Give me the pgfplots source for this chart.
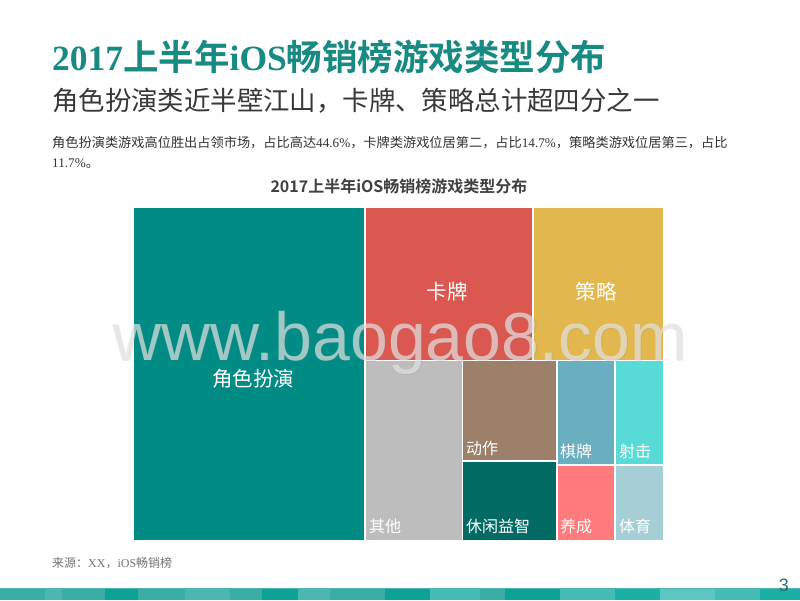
\documentclass[border=0pt]{standalone}
\usepackage{pgfplots}
\pgfplotsset{compat=1.18}
\usepackage{fontspec}
\setmainfont{Noto Sans CJK SC}
\newfontfamily\cjkb{Noto Sans CJK SC Bold}
\newfontfamily\tnr{Liberation Serif}
\newfontfamily\lsans{Liberation Sans}
\definecolor{titleteal}{HTML}{178A82}
\definecolor{cA}{HTML}{008B84}
\definecolor{cB}{HTML}{DB5851}
\definecolor{cC}{HTML}{E2B84E}
\definecolor{cD}{HTML}{BDBDBD}
\definecolor{cE}{HTML}{9C806A}
\definecolor{cF}{HTML}{006A63}
\definecolor{cG}{HTML}{6AAFBF}
\definecolor{cH}{HTML}{58DAD6}
\definecolor{cI}{HTML}{FF7B7D}
\definecolor{cJ}{HTML}{A6CED6}
\definecolor{wm}{HTML}{E6E6E6}
\definecolor{pg}{HTML}{2F6F70}
\definecolor{s1}{HTML}{3AADA5}
\definecolor{s2}{HTML}{4CB7B0}
\definecolor{s3}{HTML}{0EA195}
\definecolor{s4}{HTML}{1BB0A5}
\definecolor{s5}{HTML}{45BDB5}
\definecolor{s6}{HTML}{5CC7C0}
\begin{document}
\begin{tikzpicture}
\begin{axis}[width=800pt,height=600pt,scale only axis,xmin=0,xmax=800,ymin=0,ymax=600,
  y dir=reverse,hide axis,clip=false]
\fill[white] (axis cs:0,0) rectangle (axis cs:800,600);
% treemap rectangles
\addplot[fill=cA,draw=white,line width=1.5pt] coordinates {(133,207) (365,207) (365,541) (133,541) (133,207)};
\addplot[fill=cB,draw=white,line width=1.5pt] coordinates {(365,207) (533,207) (533,360.5) (365,360.5) (365,207)};
\addplot[fill=cC,draw=white,line width=1.5pt] coordinates {(533,207) (664,207) (664,360.5) (533,360.5) (533,207)};
\addplot[fill=cD,draw=white,line width=1.5pt] coordinates {(365,360.5) (462.7,360.5) (462.7,541) (365,541) (365,360.5)};
\addplot[fill=cE,draw=white,line width=1.5pt] coordinates {(462.7,360.5) (557,360.5) (557,461) (462.7,461) (462.7,360.5)};
\addplot[fill=cF,draw=white,line width=1.5pt] coordinates {(462.7,461) (557,461) (557,541) (462.7,541) (462.7,461)};
\addplot[fill=cG,draw=white,line width=1.5pt] coordinates {(557,360.5) (615,360.5) (615,465) (557,465) (557,360.5)};
\addplot[fill=cH,draw=white,line width=1.5pt] coordinates {(615,360.5) (664,360.5) (664,465) (615,465) (615,360.5)};
\addplot[fill=cI,draw=white,line width=1.5pt] coordinates {(557,465) (615,465) (615,541) (557,541) (557,465)};
\addplot[fill=cJ,draw=white,line width=1.5pt] coordinates {(615,465) (664,465) (664,541) (615,541) (615,465)};
% labels
\node[white,inner sep=0pt,font=\fontsize{20.5}{24}\selectfont] at (axis cs:253,379) {角色扮演};
\node[white,inner sep=0pt,font=\fontsize{20.5}{24}\selectfont] at (axis cs:447,292) {卡牌};
\node[white,inner sep=0pt,font=\fontsize{20.5}{24}\selectfont] at (axis cs:596,292) {策略};
\node[white,anchor=west,inner sep=0pt,font=\fontsize{16}{18}\selectfont] at (axis cs:369,526) {其他};
\node[white,anchor=west,inner sep=0pt,font=\fontsize{16}{18}\selectfont] at (axis cs:466,448) {动作};
\node[white,anchor=west,inner sep=0pt,font=\fontsize{16}{18}\selectfont] at (axis cs:466,526) {休闲益智};
\node[white,anchor=west,inner sep=0pt,font=\fontsize{16}{18}\selectfont] at (axis cs:560,451) {棋牌};
\node[white,anchor=west,inner sep=0pt,font=\fontsize{16}{18}\selectfont] at (axis cs:619,451) {射击};
\node[white,anchor=west,inner sep=0pt,font=\fontsize{16}{18}\selectfont] at (axis cs:560,526) {养成};
\node[white,anchor=west,inner sep=0pt,font=\fontsize{16}{18}\selectfont] at (axis cs:619,526) {体育};
% watermark
\node[anchor=base west,inner sep=0pt,text=gray,opacity=0.15,font=\lsans\fontsize{68}{70}\selectfont] at (axis cs:113.5,361.5) {www.baogao8.com};
\node[anchor=base west,inner sep=0pt,text=wm,opacity=0.68,font=\lsans\fontsize{68}{70}\selectfont] at (axis cs:112,360) {www.baogao8.com};
% chart title
\node[anchor=base,inner sep=0pt,text=black!75,font=\cjkb\fontsize{16}{18}\selectfont] at (axis cs:399,192) {2017上半年iOS畅销榜游戏类型分布};
% headings
\node[anchor=base west,inner sep=0pt,text=titleteal,font=\cjkb\fontsize{35.5}{40}\selectfont] at (axis cs:52,70) {{\tnr\bfseries 2017}上半年{\tnr\bfseries iOS}畅销榜游戏类型分布};
\node[anchor=base west,inner sep=0pt,text=black!78,font=\fontsize{26.4}{30}\selectfont] at (axis cs:52,110) {角色扮演类近半壁江山，卡牌、策略总计超四分之一};
\node[anchor=base west,inner sep=0pt,text=black!80,font=\fontsize{13.2}{16}\selectfont] at (axis cs:52,147) {角色扮演类游戏高位胜出占领市场，占比高达{\tnr 44.6\%}，卡牌类游戏位居第二，占比{\tnr 14.7\%}，策略类游戏位居第三，占比};
\node[anchor=base west,inner sep=0pt,text=black!80,font=\fontsize{13.2}{16}\selectfont] at (axis cs:52,167) {{\tnr 11.7\%}。};
\node[anchor=base west,inner sep=0pt,text=black!55,font=\fontsize{12}{14}\selectfont] at (axis cs:52,567) {来源：{\tnr XX}，{\tnr iOS}畅销榜};
% bottom stripe
\fill[s2] (axis cs:0,588) rectangle (axis cs:800,600);
\fill[s1] (axis cs:0,589) rectangle (axis cs:45,600);
\fill[s2] (axis cs:45,589) rectangle (axis cs:62,600);
\fill[s1] (axis cs:62,589) rectangle (axis cs:105,600);
\fill[s3] (axis cs:105,589) rectangle (axis cs:138,600);
\fill[s1] (axis cs:138,589) rectangle (axis cs:185,600);
\fill[s2] (axis cs:185,589) rectangle (axis cs:230,600);
\fill[s1] (axis cs:230,589) rectangle (axis cs:262,600);
\fill[s3] (axis cs:262,589) rectangle (axis cs:298,600);
\fill[s2] (axis cs:298,589) rectangle (axis cs:330,600);
\fill[s1] (axis cs:330,589) rectangle (axis cs:385,600);
\fill[s3] (axis cs:385,589) rectangle (axis cs:430,600);
\fill[s5] (axis cs:430,589) rectangle (axis cs:480,600);
\fill[s1] (axis cs:480,589) rectangle (axis cs:505,600);
\fill[s3] (axis cs:505,589) rectangle (axis cs:560,600);
\fill[s5] (axis cs:560,589) rectangle (axis cs:615,600);
\fill[s4] (axis cs:615,589) rectangle (axis cs:660,600);
\fill[s6] (axis cs:660,589) rectangle (axis cs:715,600);
\fill[s5] (axis cs:715,589) rectangle (axis cs:760,600);
\fill[s4] (axis cs:760,589) rectangle (axis cs:800,600);
\node[anchor=base east,inner sep=0pt,text=pg,font=\lsans\fontsize{18}{20}\selectfont] at (axis cs:789,591) {3};
\end{axis}
\end{tikzpicture}
\end{document}
